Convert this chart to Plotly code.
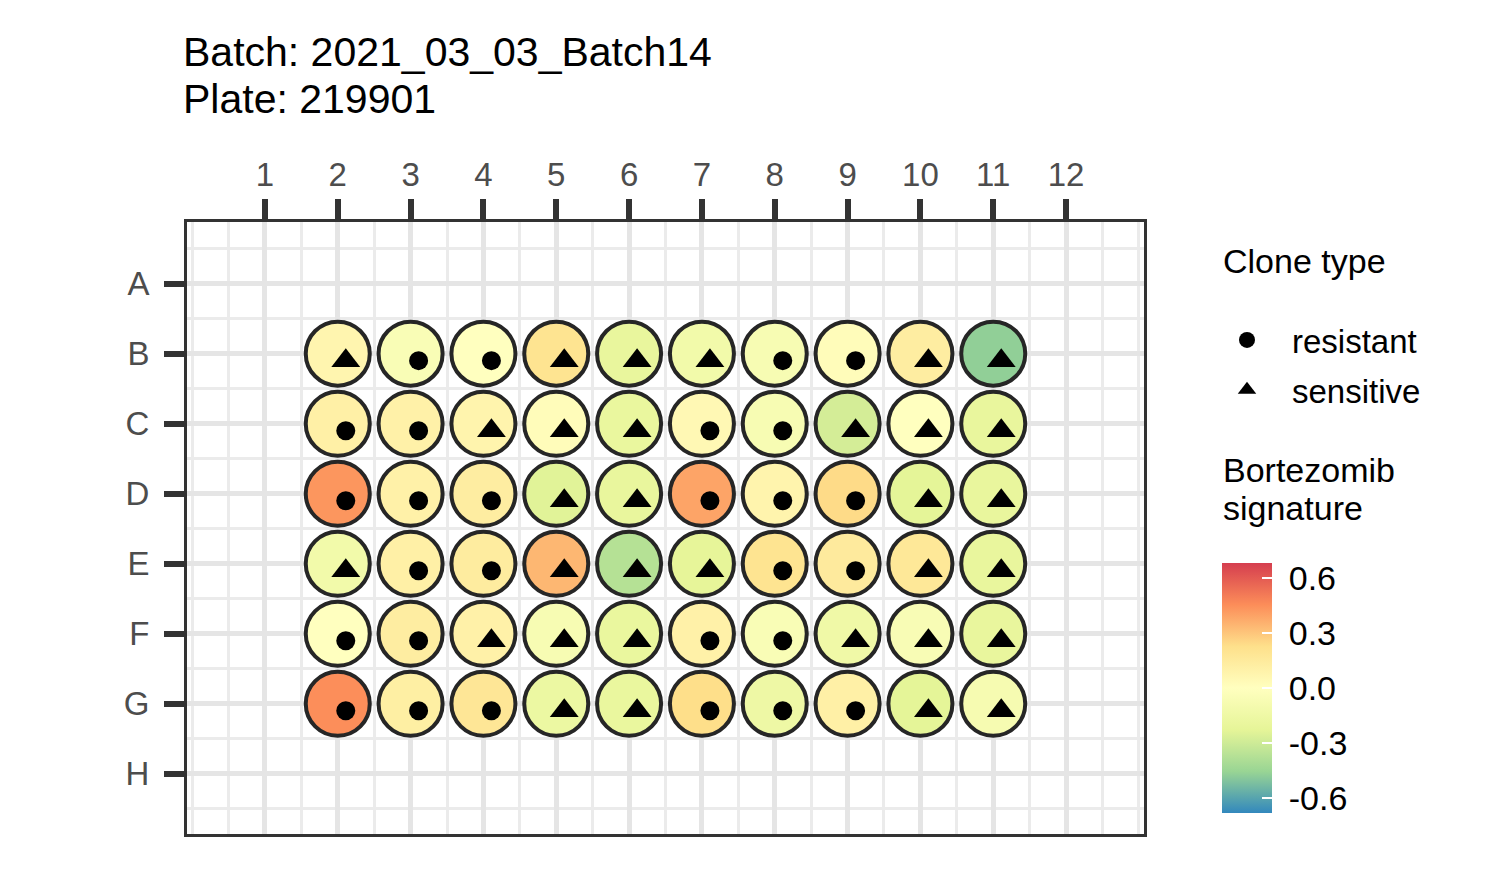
import plotly.graph_objects as go
import pandas as pd

# ---------------- data ----------------
row_labels = ["A", "B", "C", "D", "E", "F", "G", "H"]
col_labels = [str(i) for i in range(1, 13)]

rows_used = ["B", "C", "D", "E", "F", "G"]
cols_used = [2, 3, 4, 5, 6, 7, 8, 9, 10, 11]

signature_B = [0.07, -0.05, 0.00, 0.20, -0.20, -0.12, -0.07, 0.02, 0.13, -0.47]
signature_C = [0.11, 0.10, 0.08, 0.02, -0.19, 0.05, -0.07, -0.28, 0.00, -0.20]
signature_D = [0.43, 0.10, 0.13, -0.24, -0.20, 0.39, 0.08, 0.24, -0.23, -0.20]
signature_E = [-0.12, 0.11, 0.14, 0.34, -0.37, -0.22, 0.20, 0.15, 0.17, -0.20]
signature_F = [0.00, 0.13, 0.10, -0.07, -0.19, 0.10, -0.05, -0.14, -0.06, -0.20]
signature_G = [0.45, 0.12, 0.18, -0.17, -0.19, 0.23, -0.15, 0.11, -0.23, -0.08]

clone_B = ["sensitive", "resistant", "resistant", "sensitive", "sensitive", "sensitive", "resistant", "resistant", "sensitive", "sensitive"]
clone_C = ["resistant", "resistant", "sensitive", "sensitive", "sensitive", "resistant", "resistant", "sensitive", "sensitive", "sensitive"]
clone_D = ["resistant", "resistant", "resistant", "sensitive", "sensitive", "resistant", "resistant", "resistant", "sensitive", "sensitive"]
clone_E = ["sensitive", "resistant", "resistant", "sensitive", "sensitive", "sensitive", "resistant", "resistant", "sensitive", "sensitive"]
clone_F = ["resistant", "resistant", "sensitive", "sensitive", "sensitive", "resistant", "resistant", "sensitive", "sensitive", "sensitive"]
clone_G = ["resistant", "resistant", "resistant", "sensitive", "sensitive", "resistant", "resistant", "resistant", "sensitive", "sensitive"]

signature_rows = [signature_B, signature_C, signature_D, signature_E, signature_F, signature_G]
clone_rows = [clone_B, clone_C, clone_D, clone_E, clone_F, clone_G]

cbar_ticks = [-0.6, -0.3, 0.0, 0.3, 0.6]
cbar_ticktext = ["-0.6", "-0.3", "0.0", "0.3", "0.6"]
sig_limit = 0.68

title_line1 = "Batch: 2021_03_03_Batch14"
title_line2 = "Plate: 219901"

# ---------------- build long table ----------------
records = []
for r, sigs, clones in zip(rows_used, signature_rows, clone_rows):
    for c, s, t in zip(cols_used, sigs, clones):
        records.append({"row": row_labels.index(r) + 1, "col": c, "sig": s, "clone": t})
df = pd.DataFrame(records)

# ---------------- style ----------------
W, H = 1500, 875
PL, PR, PT, PB = 187, 1144, 222, 834  # plot area in px
FONT = "Liberation Sans, Arial, Helvetica, sans-serif"
NUDGE_X, NUDGE_Y = 0.11, 0.10


def px_x(px):
    return (px - PL) / (PR - PL)


def px_y(py):
    return (PB - py) / (PB - PT)


spectral = [
    [0.0, "#3288BD"], [1 / 6, "#99D594"], [2 / 6, "#E6F598"], [3 / 6, "#FFFFBF"],
    [4 / 6, "#FEE08B"], [5 / 6, "#FC8D59"], [1.0, "#D53E4F"],
]

fig = go.Figure()

fig.add_trace(go.Scatter(
    x=df["col"], y=df["row"], mode="markers", showlegend=False, hoverinfo="skip",
    marker=dict(
        size=64, color=df["sig"], colorscale=spectral, cmin=-sig_limit, cmax=sig_limit,
        line=dict(color="#262626", width=4),
        showscale=True,
        colorbar=dict(
            thickness=50, thicknessmode="pixels", len=250, lenmode="pixels",
            x=px_x(1222), xanchor="left", xref="paper",
            y=px_y(688), yanchor="middle", yref="paper",
            tickmode="array", tickvals=cbar_ticks,
            ticktext=["\u00a0" + t for t in cbar_ticktext],
            ticks="inside", ticklen=10, tickwidth=2, tickcolor="white",
            outlinewidth=0, xpad=0, ypad=0,
            tickfont=dict(size=34, color="black", family=FONT),
        ),
    ),
))

for name, sym, size in [("resistant", "circle", 19), ("sensitive", "triangle-up", 25)]:
    sub = df[df["clone"] == name]
    fig.add_trace(go.Scatter(
        x=sub["col"] + NUDGE_X, y=sub["row"] + NUDGE_Y, mode="markers", name=name,
        legendgroup=name, hoverinfo="skip",
        marker=dict(symbol=sym, size=size, color="black", line=dict(width=0)),
    ))

x_range = [-0.07, 13.07]
y_range = [8.86, 0.12]

minor_x = [0] + [i + 0.5 for i in range(0, 13)] + [13]

fig.update_xaxes(
    side="top", range=x_range, tickmode="array", tickvals=list(range(1, 13)), ticktext=col_labels,
    ticks="outside", ticklen=20, tickwidth=6, tickcolor="#333333",
    showline=True, mirror=True, linewidth=3, linecolor="#333333",
    showgrid=True, gridcolor="#E5E5E5", gridwidth=4.5, zeroline=False,
    tickfont=dict(size=33, color="#4D4D4D", family=FONT), ticklabelstandoff=0,
    minor=dict(tickmode="array", tickvals=minor_x, showgrid=True, gridcolor="#EBEBEB", gridwidth=2.5, ticks=""),
)
fig.update_yaxes(
    range=y_range, tickmode="array", tickvals=list(range(1, 9)), ticktext=row_labels,
    ticks="outside", ticklen=20, tickwidth=6, tickcolor="#333333",
    showline=True, mirror=True, linewidth=3, linecolor="#333333",
    showgrid=True, gridcolor="#E5E5E5", gridwidth=4.5, zeroline=False,
    tickfont=dict(size=33, color="#4D4D4D", family=FONT), ticklabelstandoff=8,
    minor=dict(tickmode="array", tickvals=[i + 0.5 for i in range(0, 9)], showgrid=True,
               gridcolor="#EBEBEB", gridwidth=2.5, ticks=""),
)

annots = [
    (title_line1, 181, 52, 41),
    (title_line2, 181, 99, 41),
    ("Clone type", 1221, 261, 34),
    ("Bortezomib", 1221, 470, 34),
    ("signature", 1221, 508, 34),
]
for text, ax, ay, fs in annots:
    fig.add_annotation(
        text=text, xref="paper", yref="paper", x=px_x(ax), y=px_y(ay),
        xanchor="left", yanchor="middle", showarrow=False,
        font=dict(size=fs, color="black", family=FONT), align="left",
    )

fig.update_layout(
    width=W, height=H,
    margin=dict(l=PL, r=W - PR, t=PT, b=H - PB, pad=0, autoexpand=False),
    paper_bgcolor="white", plot_bgcolor="white",
    font=dict(family=FONT, color="black"),
    showlegend=True,
    legend=dict(
        x=1202 / W, xref="container", xanchor="left",
        y=1 - 312 / H, yref="container", yanchor="top",
        font=dict(size=33, color="black", family=FONT),
        itemwidth=80, tracegroupgap=4, traceorder="grouped",
        bgcolor="rgba(0,0,0,0)", borderwidth=0,
    ),
)

fig.write_html("out.html")
